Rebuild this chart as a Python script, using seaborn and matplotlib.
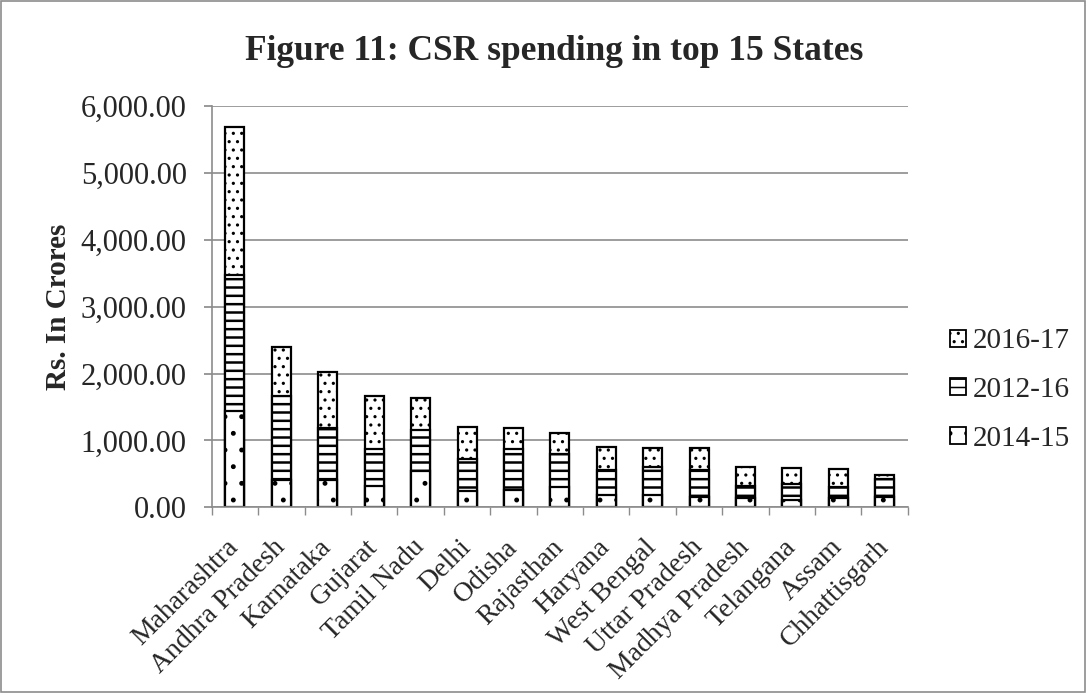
import matplotlib
matplotlib.use("Agg")
import matplotlib.pyplot as plt
import seaborn as sns
import pandas as pd
import numpy as np
from matplotlib.patches import Patch, Rectangle
from matplotlib.ticker import FuncFormatter, FixedLocator

states = ["Maharashtra", "Andhra Pradesh", "Karnataka", "Gujarat", "Tamil Nadu",
          "Delhi", "Odisha", "Rajasthan", "Haryana", "West Bengal",
          "Uttar Pradesh", "Madhya Pradesh", "Telangana", "Assam", "Chhattisgarh"]
v_2014_15 = [1442, 415, 404, 319, 543, 244, 254, 304, 190, 190, 155, 140, 105, 140, 150]
v_2012_16 = [2031, 1247, 784, 549, 620, 475, 614, 489, 364, 414, 409, 185, 249, 159, 279]
v_2016_17 = [2220, 729, 838, 794, 474, 483, 320, 324, 349, 279, 319, 284, 230, 270, 50]
series = ["2016-17", "2012-16", "2014-15"]

sns.set_theme(style="white")
plt.rcParams["font.family"] = ["Liberation Serif", "DejaVu Serif"]

df = pd.DataFrame({"state": states, "a": v_2014_15, "b": v_2012_16, "c": v_2016_17})
df["ab"] = df["a"] + df["b"]
df["abc"] = df["ab"] + df["c"]

fig = plt.figure(figsize=(10.86, 6.93), dpi=100)
ax = fig.add_axes([0.195, 0.268, 0.641, 0.579])

common = dict(color="white", edgecolor="black", linewidth=1.6, width=0.41, ax=ax)
plt.rcParams["hatch.linewidth"] = 1.1
sns.barplot(data=df, x="state", y="abc", hatch="..", **common)
plt.rcParams["hatch.linewidth"] = 1.8
sns.barplot(data=df, x="state", y="ab", hatch="--", **common)
plt.rcParams["hatch.linewidth"] = 1.1
sns.barplot(data=df, x="state", y="a", hatch=".", **common)

ax.set_ylim(0, 6000)
ax.set_xlim(-0.5, 14.5)
ax.set_yticks(np.arange(0, 6001, 1000))
ax.yaxis.set_major_formatter(FuncFormatter(lambda v, p: f"{v:,.2f}"))
ax.yaxis.grid(True, color="#8c8c8c", linewidth=1.2)
ax.set_axisbelow(True)
ax.tick_params(axis="y", labelsize=22, left=True, length=6, color="#8c8c8c", pad=12)
ax.set_xticks(range(15))
ax.set_xticklabels(states, rotation=45, ha="right", va="center",
                   rotation_mode="anchor", fontsize=20)
ax.tick_params(axis="x", which="major", bottom=False, length=0, pad=26)
ax.xaxis.set_minor_locator(FixedLocator(np.arange(-0.5, 15, 1)))
ax.tick_params(axis="x", which="minor", bottom=True, length=6, color="#8c8c8c")
for s in ["top", "right"]:
    ax.spines[s].set_visible(False)
for s in ["left", "bottom"]:
    ax.spines[s].set_color("#8c8c8c")
    ax.spines[s].set_linewidth(1.2)
ax.set_xlabel("")
ax.set_ylabel("Rs. In Crores", fontsize=21, labelpad=6)
ax.yaxis.label.set_fontweight("bold")

fig.text(0.51, 0.925, "Figure 11: CSR spending in top 15 States", ha="center", va="center",
         fontsize=25.5, fontweight="bold")

handles = [Patch(facecolor="white", edgecolor="black", hatch="..", linewidth=1.3),
           Patch(facecolor="white", edgecolor="black", hatch="--", linewidth=1.3),
           Patch(facecolor="white", edgecolor="black", hatch=".", linewidth=1.3)]
fig.legend(handles, series, loc="center left", bbox_to_anchor=(0.851, 0.437),
           frameon=False, fontsize=21, handlelength=0.52, handleheight=0.52,
           handletextpad=0.24, labelspacing=0.78)

fig.patches.append(Rectangle((0.001, 0.001), 0.998, 0.998, transform=fig.transFigure,
                             fill=False, edgecolor="#8c8c8c", linewidth=1.2))
fig.savefig("out.png", dpi=100)
